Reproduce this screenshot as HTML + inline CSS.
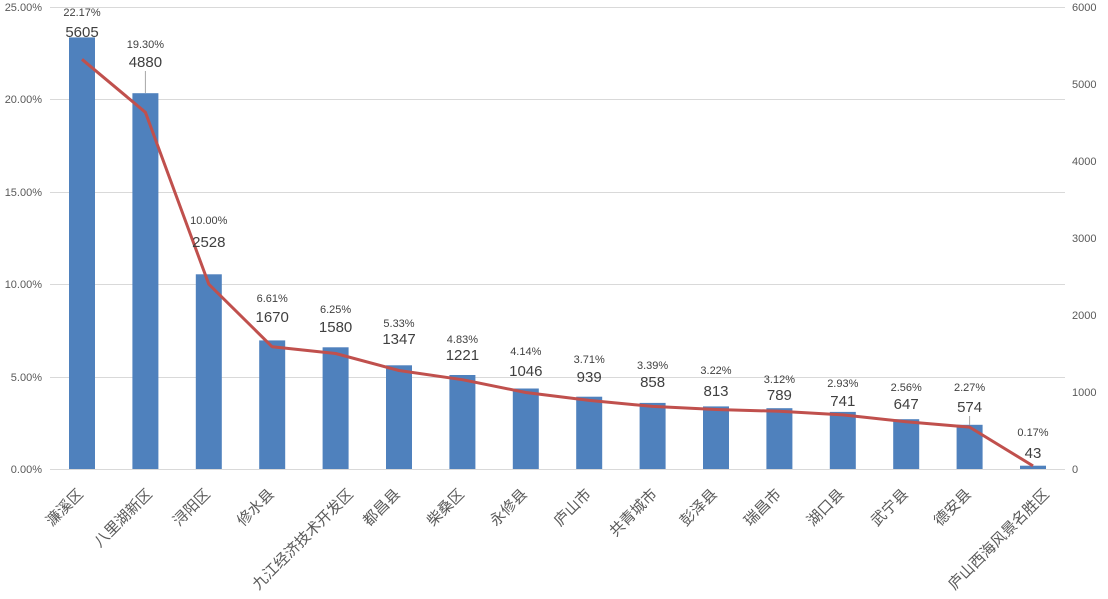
<!DOCTYPE html>
<html><head><meta charset="utf-8"><style>
html,body{margin:0;padding:0;background:#fff;}
svg{display:block;font-family:"Liberation Sans","Noto Sans CJK SC",sans-serif;}
</style></head><body>
<svg width="1108" height="599" viewBox="0 0 1108 599">
<g stroke="#d9d9d9" stroke-width="1">
<line x1="50" x2="1065" y1="7.5" y2="7.5"/>
<line x1="50" x2="1065" y1="99.5" y2="99.5"/>
<line x1="50" x2="1065" y1="192.5" y2="192.5"/>
<line x1="50" x2="1065" y1="284.5" y2="284.5"/>
<line x1="50" x2="1065" y1="377.5" y2="377.5"/>
<line x1="50" x2="1065" y1="469.5" y2="469.5"/>
</g>
<g fill="#595959" font-size="11" text-anchor="end">
<text x="42" y="11">25.00%</text>
<text x="42" y="103">20.00%</text>
<text x="42" y="196">15.00%</text>
<text x="42" y="288">10.00%</text>
<text x="42" y="381">5.00%</text>
<text x="42" y="473">0.00%</text>
</g>
<g fill="#595959" font-size="11">
<text x="1072" y="11">6000</text>
<text x="1072" y="88">5000</text>
<text x="1072" y="165">4000</text>
<text x="1072" y="242">3000</text>
<text x="1072" y="319">2000</text>
<text x="1072" y="396">1000</text>
<text x="1072" y="473">0</text>
</g>
<g fill="#4f81bd">
<rect x="69" y="37.4" width="26" height="431.6"/>
<rect x="132.4" y="93.2" width="26" height="375.8"/>
<rect x="195.8" y="274.3" width="26" height="194.7"/>
<rect x="259.2" y="340.4" width="26" height="128.6"/>
<rect x="322.6" y="347.3" width="26" height="121.7"/>
<rect x="386" y="365.3" width="26" height="103.7"/>
<rect x="449.4" y="375" width="26" height="94"/>
<rect x="512.8" y="388.5" width="26" height="80.5"/>
<rect x="576.2" y="396.7" width="26" height="72.3"/>
<rect x="639.6" y="402.9" width="26" height="66.1"/>
<rect x="703" y="406.4" width="26" height="62.6"/>
<rect x="766.4" y="408.2" width="26" height="60.8"/>
<rect x="829.8" y="411.9" width="26" height="57.1"/>
<rect x="893.2" y="419.2" width="26" height="49.8"/>
<rect x="956.6" y="424.8" width="26" height="44.2"/>
<rect x="1020" y="465.7" width="26" height="3.3"/>
</g>
<polyline fill="none" stroke="#c0504d" stroke-width="3" stroke-linejoin="round" points="82,59.3 145.4,112.3 208.8,284.2 272.2,346.8 335.6,353.5 399,370.5 462.4,379.7 525.8,392.5 589.2,400.4 652.6,406.4 716,409.5 779.4,411.3 842.8,414.9 906.2,421.7 969.6,427.1 1033,465.9"/>
<g stroke="#a6a6a6" stroke-width="1">
<line x1="145.4" x2="145.4" y1="71" y2="93"/>
<line x1="969.6" x2="969.6" y1="416" y2="425"/>
</g>
<g fill="#404040" font-size="15" text-anchor="middle">
<text x="82" y="37">5605</text>
<text x="145.4" y="67">4880</text>
<text x="208.8" y="247">2528</text>
<text x="272.2" y="322">1670</text>
<text x="335.6" y="332">1580</text>
<text x="399" y="344">1347</text>
<text x="462.4" y="360">1221</text>
<text x="525.8" y="376">1046</text>
<text x="589.2" y="382">939</text>
<text x="652.6" y="387">858</text>
<text x="716" y="396">813</text>
<text x="779.4" y="400">789</text>
<text x="842.8" y="406">741</text>
<text x="906.2" y="409">647</text>
<text x="969.6" y="412">574</text>
<text x="1033" y="458">43</text>
</g>
<g fill="#404040" font-size="11" text-anchor="middle">
<text x="82" y="16">22.17%</text>
<text x="145.4" y="48">19.30%</text>
<text x="208.8" y="224">10.00%</text>
<text x="272.2" y="302">6.61%</text>
<text x="335.6" y="313">6.25%</text>
<text x="399" y="327">5.33%</text>
<text x="462.4" y="343">4.83%</text>
<text x="525.8" y="355">4.14%</text>
<text x="589.2" y="363">3.71%</text>
<text x="652.6" y="369">3.39%</text>
<text x="716" y="374">3.22%</text>
<text x="779.4" y="383">3.12%</text>
<text x="842.8" y="387">2.93%</text>
<text x="906.2" y="391">2.56%</text>
<text x="969.6" y="391">2.27%</text>
<text x="1033" y="436">0.17%</text>
</g>
<g fill="#595959" font-size="15" text-anchor="end">
<text x="84" y="495" transform="rotate(-45 84 495)">濂溪区</text>
<text x="153" y="495" transform="rotate(-45 153 495)">八里湖新区</text>
<text x="211" y="495" transform="rotate(-45 211 495)">浔阳区</text>
<text x="275" y="495" transform="rotate(-45 275 495)">修水县</text>
<text x="354" y="495" transform="rotate(-45 354 495)">九江经济技术开发区</text>
<text x="401" y="495" transform="rotate(-45 401 495)">都昌县</text>
<text x="465" y="495" transform="rotate(-45 465 495)">柴桑区</text>
<text x="528" y="495" transform="rotate(-45 528 495)">永修县</text>
<text x="592" y="495" transform="rotate(-45 592 495)">庐山市</text>
<text x="658" y="495" transform="rotate(-45 658 495)">共青城市</text>
<text x="718" y="495" transform="rotate(-45 718 495)">彭泽县</text>
<text x="782" y="495" transform="rotate(-45 782 495)">瑞昌市</text>
<text x="845" y="495" transform="rotate(-45 845 495)">湖口县</text>
<text x="909" y="495" transform="rotate(-45 909 495)">武宁县</text>
<text x="972" y="495" transform="rotate(-45 972 495)">德安县</text>
<text x="1050" y="495" transform="rotate(-45 1050 495)">庐山西海风景名胜区</text>
</g>
</svg>
</body></html>
